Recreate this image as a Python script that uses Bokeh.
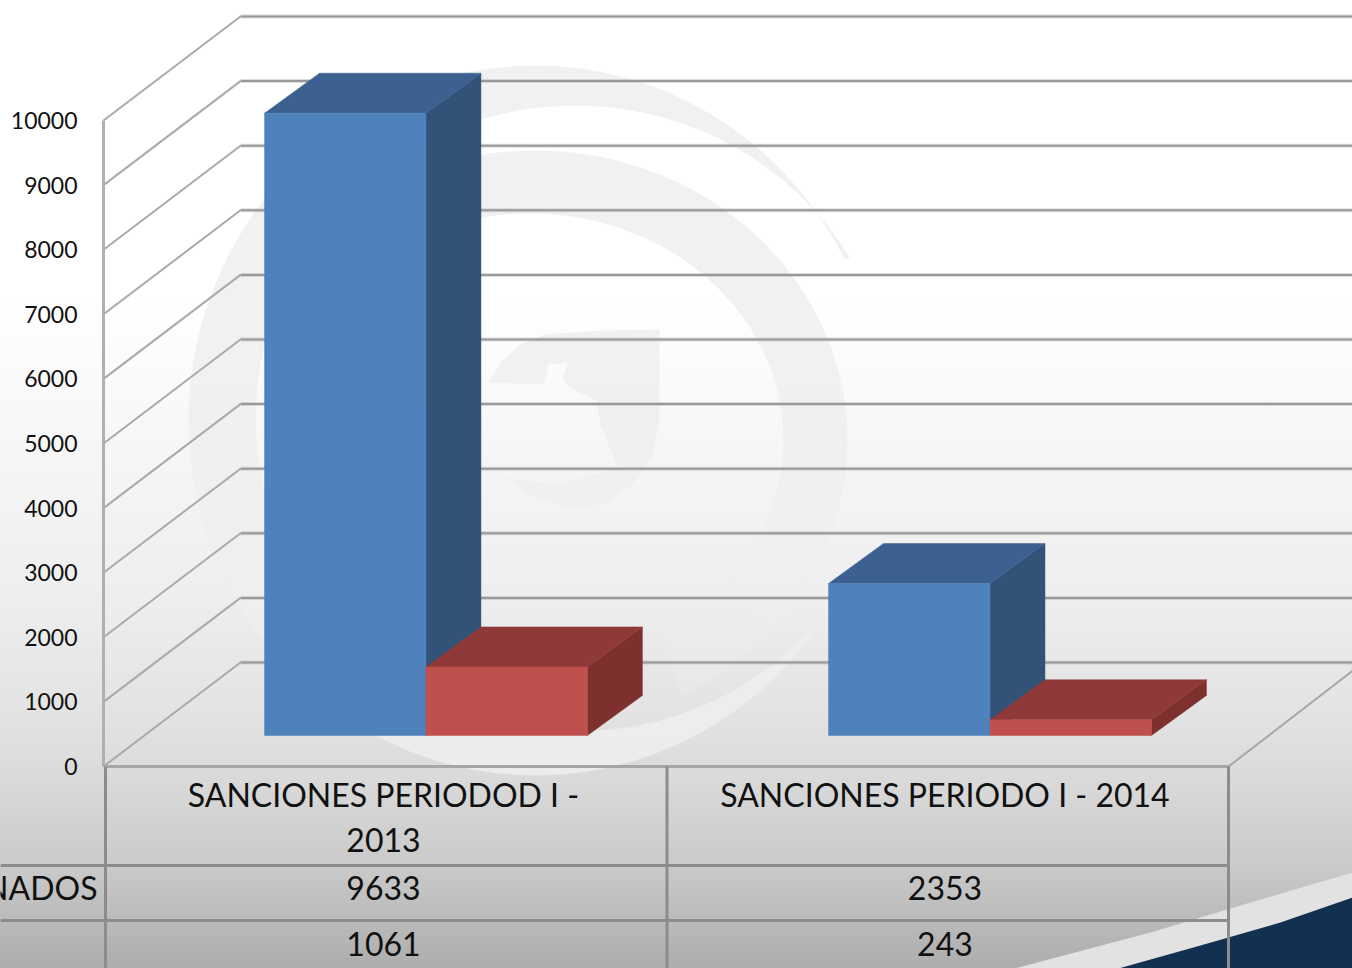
import math
from bokeh.plotting import figure
from bokeh.models import FixedTicker, ColumnDataSource
from bokeh.core.properties import value
from bokeh.embed import file_html
from bokeh.resources import INLINE

# ---- data -----------------------------------------------------------------
categories = ["SANCIONES PERIODOD I -\n2013", "SANCIONES PERIODO I - 2014"]
series_a_name = "NADOS"
series_a = [9633, 2353]
series_b = [1061, 243]
tick_values = [0, 1000, 2000, 3000, 4000, 5000, 6000, 7000, 8000, 9000, 10000]

FONT = "Lato"
W, H = 1352, 968

# ---- scale: reference-pixel <-> chart units -------------------------------
UX = 561.5                    # px per category
UY = 0.0646                   # px per value unit
X0, Y0 = 105.0, 766.0
def X(px): return (px - X0) / UX
def Y(py): return (Y0 - py) / UY

DEPTH_X, DEPTH_Y = 135.0, 104.0     # wall depth, px
def proj(x, v, z):
    """chart position (x, value, depth 0..1) -> plotted coordinates"""
    return x + z * DEPTH_X / UX, v + z * DEPTH_Y / UY

GAP = 0.2116
STEP = 1.0045
BAR = 0.2875
Z0, Z1 = 0.298, 0.683
BACK_EXTRA = 3 / UX

p = figure(width=W, height=H, output_backend="svg", toolbar_location=None,
           x_range=(X(0), X(W)), y_range=(Y(H), Y(0)),
           x_axis_location=None, y_axis_location="left",
           min_border_left=0, min_border_right=0, min_border_top=0, min_border_bottom=0,
           background_fill_color=None, border_fill_color=None, outline_line_color=None)
p.grid.visible = False

def pct(y): return f"{y / H * 100:.1f}%"
stops = [(0, "#ffffff"), (300, "#ffffff"), (420, "#f8f8f8"), (600, "#eeeeee"), (720, "#e2e2e2"),
         (766, "#dcdcdc"), (865, "#cacaca"), (968, "#adadad")]
p.styles = {"background": "linear-gradient(to bottom, " + ", ".join(f"{c} {pct(y)}" for y, c in stops) + ")"}

ax = p.yaxis[0]
ax.ticker = FixedTicker(ticks=tick_values)
ax.axis_line_color = None
ax.major_tick_line_color = None
ax.minor_tick_line_color = None
ax.major_tick_out = 0
ax.major_tick_in = 0
ax.minor_tick_out = 0
ax.minor_tick_in = 0
ax.major_label_standoff = -77
ax.major_label_text_font = FONT
ax.major_label_text_font_size = "23px"
ax.major_label_text_color = "#111111"

# ---- watermark ------------------------------------------------------------
def arc(cx, cy, rx, ry, a0, a1, n=80):
    pts = []
    for i in range(n + 1):
        a = math.radians(a0 + (a1 - a0) * i / n)
        pts.append((cx + rx * math.cos(a), cy - ry * math.sin(a)))
    return pts

def ring(a0, a1, b0, b1):
    return arc(535, 440, 312, 290, a0, a1, 40) + arc(530, 440, 253, 227, b1, b0, 40)

crescent1 = arc(535, 420, 347, 355, 27, 323) + arc(575, 418, 320, 313, 317.3, 31)
shield = [(488, 382), (500, 362), (520, 344), (545, 334), (600, 330), (659, 329), (659, 420), (652, 455),
          (632, 485), (605, 503), (570, 507), (535, 497), (505, 478), (560, 484), (600, 472), (618, 468),
          (600, 425), (596, 400), (570, 388), (562, 378), (568, 362), (548, 364), (543, 384)]
wm = [crescent1, ring(105, -15, 105, -15), ring(-15, -40, -15, -40), ring(-40, -62, -40, -58), shield]
wm_alpha = [0.85, 0.85, 0.6, 0.4, 0.85]
p.patches([[X(a) for a, _ in s] for s in wm], [[Y(b) for _, b in s] for s in wm],
          fill_color="#eeeeee", fill_alpha=wm_alpha, line_color=None)

# ---- corner wave ----------------------------------------------------------
band = [(1014, 968), (1052, 958), (1150, 932), (1250, 902), (1352, 872), (1352, 968)]
dark = [(1118, 968), (1200, 945), (1280, 922), (1352, 897), (1352, 968)]
p.patch([X(a) for a, _ in band], [Y(b) for _, b in band], fill_color="#e2e2e2", line_color=None)
p.patch([X(a) for a, _ in dark], [Y(b) for _, b in dark], fill_color="#12304f", line_color=None)

# ---- walls ----------------------------------------------------------------
x_end = X(1360)
for t in tick_values:
    bx, by = proj(0, t, 1)
    p.line([bx, x_end], [by, by], line_color="#a9a9a9", line_width=4, line_alpha=0.4)
    p.line([bx, x_end], [by, by], line_color="#999999", line_width=2)
    p.line([-2 / UX, bx], [t, by], line_color="#a9a9a9", line_width=2)
p.line([-2 / UX, -2 / UX], [0, tick_values[-1]], line_color="#b0b0b0", line_width=3)
p.line([0, 2], [0, 0], line_color="#a6a6a6", line_width=3)
rx, ry = proj(2, 0, 1)
p.line([2, rx], [0, ry], line_color="#a6a6a6", line_width=2)

# ---- 3-D bars -------------------------------------------------------------
def back(x, v):
    a, b = proj(x, v, Z1)
    return a + BACK_EXTRA, b

def box(x0, x1, v):
    f = [proj(x, u, Z0) for x, u in ((x0, 0), (x1, 0), (x1, v), (x0, v))]
    s = [proj(x1, 0, Z0), back(x1, 0), back(x1, v), proj(x1, v, Z0)]
    t = [proj(x0, v, Z0), proj(x1, v, Z0), back(x1, v), back(x0, v)]
    return s, t, f

xs, ys, cols = [], [], []
for i in range(len(categories)):
    left = i * STEP + GAP
    for j, (vals, shades) in enumerate(((series_a, ("#325277", "#3c6191", "#4f81bd")),
                                        (series_b, ("#7d302e", "#8f3a38", "#c0504d")))):
        x0 = left + j * BAR
        for face, col in zip(box(x0, x0 + BAR, vals[i]), shades):
            xs.append([a for a, _ in face]); ys.append([b for _, b in face]); cols.append(col)
p.patches("xs", "ys", source=ColumnDataSource(dict(xs=xs, ys=ys, c=cols)),
          fill_color="c", line_color="c", line_width=0.5)

# ---- data table -----------------------------------------------------------
TL = "#8c8c8c"
for i in range(len(categories) + 1):
    p.line([i, i], [0, Y(975)], line_color=TL, line_width=3)
for py in (865, 920):
    p.line([X(0), 2], [Y(py), Y(py)], line_color=TL, line_width=3)

SHIFT = -2.8 / UX
tx, ty, tt = [], [], []
for i, c in enumerate(categories):
    for k, line in enumerate(c.split("\n")):
        tx.append(i + 0.5 + SHIFT); ty.append(Y(794 + 45 * k)); tt.append(line)
    tx.append(i + 0.5 + SHIFT); ty.append(Y(887)); tt.append(str(series_a[i]))
    tx.append(i + 0.5 + SHIFT); ty.append(Y(943)); tt.append(str(series_b[i]))
p.text(tx, ty, text=tt, text_align="center", text_baseline="middle",
       text_font=value(FONT), text_font_size="32px", text_color="#111111")
p.text([X(97)], [Y(887)], text=[series_a_name], text_align="right", text_baseline="middle",
       text_font=value(FONT), text_font_size="32px", text_color="#111111")

open("out.html", "w").write(file_html(p, INLINE))
